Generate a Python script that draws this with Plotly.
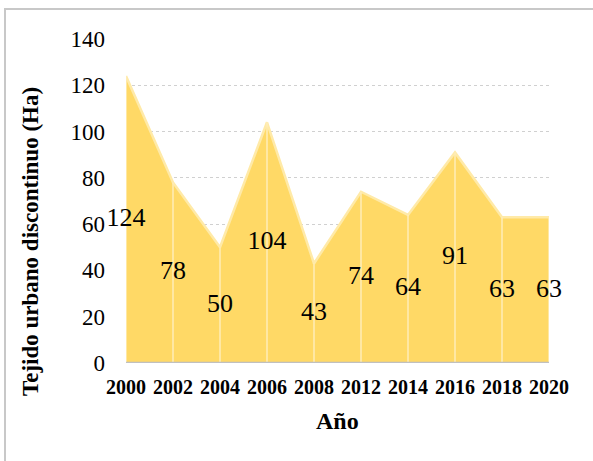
import plotly.graph_objects as go

years = ["2000", "2002", "2004", "2006", "2008", "2012", "2014", "2016", "2018", "2020"]
values = [124, 78, 50, 104, 43, 74, 64, 91, 63, 63]
y_ticks = [0, 20, 40, 60, 80, 100, 120, 140]

W, H = 593, 461
L, R, T, B = 126, 44, 39, 98
pw, ph = W - L - R, H - T - B

idx = list(range(len(years)))

fig = go.Figure()

# area
fig.add_trace(go.Scatter(
    x=idx, y=values, mode="lines", fill="tozeroy",
    fillcolor="#FFD966", line=dict(color="#FFEAA8", width=2.5),
    hoverinfo="skip", showlegend=False))

# vertical drop lines
vx, vy = [], []
for i, v in zip(idx, values):
    vx += [i, i, None]
    vy += [0, v, None]
fig.add_trace(go.Scatter(
    x=vx, y=vy, mode="lines", line=dict(color="#FFEDB8", width=1.5),
    hoverinfo="skip", showlegend=False))

# data labels
fig.add_trace(go.Scatter(
    x=idx, y=[v / 2 for v in values], mode="text",
    text=[str(v) for v in values], textposition="middle center",
    textfont=dict(family="Liberation Serif", size=26, color="#000000"),
    cliponaxis=False, hoverinfo="skip", showlegend=False))

fig.update_layout(
    width=W, height=H,
    margin=dict(l=L, r=R, t=T, b=B),
    paper_bgcolor="white", plot_bgcolor="white",
    font=dict(family="Liberation Serif", color="#000000"),
    xaxis=dict(
        range=[0, len(years) - 1], tickmode="array", tickvals=idx, ticktext=years,
        showgrid=False, zeroline=False, showline=False, ticks="",
        tickfont=dict(family="Liberation Serif", size=20, color="#000000", weight="bold"),
        ticklabelstandoff=10,
    ),
    yaxis=dict(
        range=[0, 140], tickmode="array", tickvals=y_ticks,
        showgrid=True, gridcolor="#D0D0D0", griddash="dot", gridwidth=1,
        zeroline=False, showline=False, ticks="",
        tickfont=dict(family="Liberation Serif", size=23, color="#000000"),
        ticklabelstandoff=20,
    ),
    annotations=[
        dict(text="<b>Tejido urbano discontinuo (Ha)</b>", textangle=-90,
             xref="paper", yref="paper", x=(30 - L) / pw, y=(H - B - 242) / ph,
             xanchor="center", yanchor="middle", showarrow=False,
             font=dict(family="Liberation Serif", size=23, color="#000000")),
        dict(text="<b>Año</b>",
             xref="paper", yref="paper", x=(337 - L) / pw, y=(H - B - 421) / ph,
             xanchor="center", yanchor="middle", showarrow=False,
             font=dict(family="Liberation Serif", size=24, color="#000000")),
    ],
    shapes=[
        dict(type="line", xref="paper", yref="y", x0=0, x1=1, y0=0, y1=0,
             line=dict(color="#C0C0C0", width=2.5), layer="above"),
        dict(type="rect", xref="paper", yref="paper",
             x0=(5 - L) / pw, x1=1.3, y0=-0.6, y1=(H - B - 9) / ph,
             line=dict(color="#C8C8C8", width=2), fillcolor="rgba(0,0,0,0)", layer="below"),
    ],
)

fig.write_html("out.html")
